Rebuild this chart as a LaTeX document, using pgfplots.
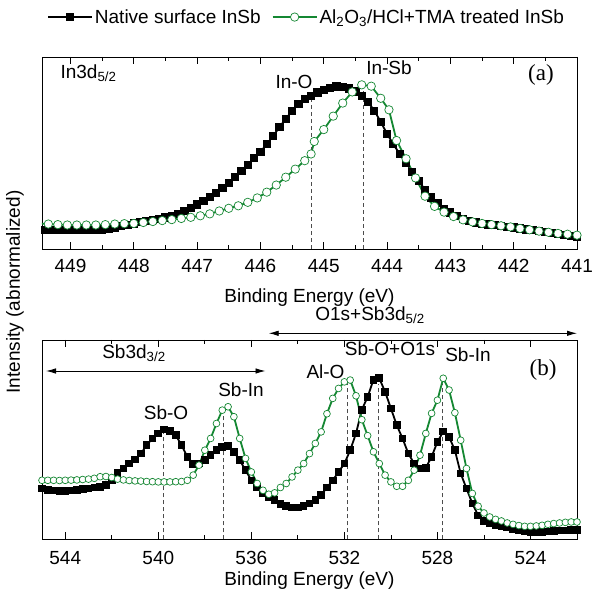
\documentclass[border=0pt]{standalone}
\usepackage{fontspec}
\setmainfont{Liberation Sans}
\newfontfamily\serifface{Liberation Serif}
\usepackage{pgfplots}
\pgfplotsset{compat=1.18}
\usetikzlibrary{arrows.meta}
\definecolor{grn}{RGB}{20,135,50}
\newcommand\fs{\fontsize{19bp}{22bp}\selectfont}
\newcommand\fl{\fontsize{23bp}{25bp}\selectfont\serifface}

\pgfplotsset{
  xps/.style={scale only axis, width=535bp, x dir=reverse, ymin=0, ymax=100, ytick=\empty,
    tick align=inside, major tick length=7bp, minor tick length=4bp, minor x tick num=1,
    xticklabel pos=lower, tick label style={font=\fs}, label style={font=\fs},
    /pgf/number format/assume math mode=true, /pgf/number format/set thousands separator={},
    axis line style={line width=0.8bp}, every tick/.style={black, line width=0.8bp},
    xlabel={Binding Energy (eV)}},
  nat/.style={black, line width=1.8bp, mark=square*, mark size=#1, mark options={solid}},
  trt/.style={grn, line width=1.8bp, mark=*, mark size=#1, mark options={solid, fill=white, draw=grn, line width=0.7bp}},
  dl/.style={black!70, dash pattern=on 4bp off 3bp, line width=0.8bp, forget plot, mark=none},
}

\pgfplotstableread{
x y
449.5 9.8
449.4 9.8
449.3 9.7
449.2 9.7
449.1 9.7
449.0 9.8
448.9 9.8
448.8 9.8
448.7 9.9
448.6 10.0
448.5 10.2
448.4 10.6
448.3 11.2
448.2 11.8
448.1 12.5
448.0 13.3
447.9 14.0
447.8 14.6
447.7 15.2
447.6 15.8
447.5 16.4
447.4 17.2
447.3 18.3
447.2 19.7
447.1 21.3
447.0 23.2
446.9 25.2
446.8 27.2
446.7 29.3
446.6 31.6
446.5 34.4
446.4 37.4
446.3 40.5
446.2 43.8
446.1 47.2
446.0 50.6
445.9 54.6
445.8 58.9
445.7 63.4
445.6 67.8
445.5 72.0
445.4 75.5
445.3 78.0
445.2 79.6
445.1 81.5
445.0 83.0
444.9 84.0
444.8 84.6
444.7 84.5
444.6 83.6
444.5 82.0
444.4 79.5
444.3 76.5
444.2 72.0
444.1 66.2
444.0 60.0
443.9 54.5
443.8 49.5
443.7 44.8
443.6 40.3
443.5 35.6
443.4 30.8
443.3 26.8
443.2 23.8
443.1 21.0
443.0 19.0
442.9 17.0
442.8 15.6
442.7 14.6
442.6 13.8
442.5 13.2
442.4 12.8
442.3 12.4
442.2 12.0
442.1 11.6
442.0 11.2
441.9 10.7
441.8 10.2
441.7 9.7
441.6 9.3
441.5 8.9
441.4 8.4
441.3 7.9
441.2 7.3
441.1 6.8
441.0 6.3
}\natA

\pgfplotstableread{
x y
449.50 13.3
449.35 13.0
449.20 12.7
449.05 12.5
448.90 12.5
448.75 12.5
448.60 12.5
448.45 12.7
448.30 13.0
448.15 13.2
448.00 13.3
447.85 13.8
447.70 14.3
447.55 14.8
447.40 15.3
447.25 15.9
447.10 16.5
446.95 17.3
446.80 18.3
446.65 19.8
446.50 21.2
446.35 22.5
446.20 24.3
446.05 26.6
445.90 29.6
445.75 33.3
445.60 37.4
445.45 41.6
445.30 46.0
445.20 49.5
445.15 56.0
445.00 62.2
444.85 69.2
444.70 76.0
444.55 81.8
444.40 85.5
444.25 84.8
444.10 78.5
443.97 72.5
443.85 56.5
443.70 47.0
443.55 37.0
443.40 27.5
443.25 22.2
443.10 19.2
442.95 16.9
442.80 15.2
442.65 14.1
442.50 13.3
442.35 12.7
442.20 12.1
442.05 11.5
441.90 10.7
441.75 10.0
441.60 9.3
441.45 8.7
441.30 8.1
441.15 7.7
441.00 7.2
}\trtA

\pgfplotstableread{
x y
545.00 25.5
544.75 24.8
544.50 24.5
544.25 24.3
544.00 24.3
543.75 24.5
543.50 24.8
543.25 25.2
543.00 25.5
542.75 26.0
542.50 26.3
542.25 27.1
542.00 29.6
541.75 33.3
541.50 35.5
541.25 38.0
541.00 40.0
540.75 43.0
540.50 47.2
540.25 50.6
540.00 53.1
539.75 55.1
539.50 54.4
539.25 52.3
539.00 47.2
538.75 41.4
538.50 37.9
538.25 38.0
538.00 39.7
537.75 42.2
537.50 44.7
537.25 46.4
537.00 46.7
536.75 43.9
536.50 39.7
536.25 34.7
536.00 29.6
535.75 26.0
535.50 23.0
535.25 21.0
535.00 19.6
534.75 17.6
534.50 16.6
534.25 15.9
534.00 15.9
533.75 16.6
533.50 17.9
533.25 19.6
533.00 22.1
532.75 26.0
532.50 29.6
532.25 33.8
532.00 38.0
531.75 44.7
531.50 53.1
531.25 65.0
531.00 71.5
530.75 80.0
530.50 80.8
530.25 74.0
530.00 65.7
529.75 57.3
529.50 50.6
529.25 43.0
529.00 38.0
528.75 35.5
528.50 35.9
528.25 41.4
528.00 48.9
527.75 54.0
527.50 51.4
527.25 44.7
527.00 33.0
526.75 25.5
526.50 18.0
526.25 12.0
526.00 9.2
525.75 8.0
525.50 7.0
525.25 6.4
525.00 5.9
524.75 5.2
524.50 4.6
524.25 4.1
524.00 3.8
523.75 3.7
523.50 3.8
523.25 4.0
523.00 4.2
522.75 4.4
522.50 4.5
522.25 4.6
522.00 4.6
}\natB

\pgfplotstableread{
x y
545.00 29.6
544.75 29.6
544.50 29.6
544.25 29.5
544.00 29.6
543.75 29.7
543.50 29.8
543.25 30.0
543.00 30.2
542.75 30.6
542.50 31.4
542.25 31.5
542.00 31.0
541.75 30.2
541.50 29.8
541.25 29.5
541.00 29.3
540.75 29.2
540.50 29.0
540.25 28.9
540.00 28.8
539.75 28.8
539.50 28.8
539.25 28.9
539.00 29.0
538.75 29.6
538.50 32.2
538.25 37.2
538.00 44.7
537.75 50.6
537.50 58.1
537.25 64.8
537.00 66.5
536.75 61.5
536.50 50.6
536.25 40.6
536.00 33.8
535.75 28.0
535.50 24.6
535.25 22.6
535.00 23.3
534.75 26.0
534.50 28.0
534.25 31.3
534.00 34.7
533.75 38.0
533.50 43.0
533.25 48.1
533.00 53.9
532.75 63.0
532.50 70.7
532.25 75.7
532.00 79.0
531.75 79.9
531.50 72.0
531.25 60.0
531.00 52.0
530.75 43.9
530.50 38.0
530.25 32.2
530.00 28.8
529.75 26.6
529.50 26.6
529.25 29.6
529.00 34.7
528.75 42.2
528.50 53.1
528.25 63.2
528.00 69.8
527.75 80.8
527.50 74.9
527.25 63.5
527.00 49.7
526.75 35.5
526.50 23.0
526.25 16.6
526.00 13.2
525.75 11.2
525.50 10.0
525.25 9.2
525.00 8.2
524.75 7.5
524.50 6.9
524.25 6.5
524.00 6.5
523.75 6.7
523.50 7.0
523.25 7.5
523.00 7.9
522.75 8.2
522.50 8.5
522.25 8.7
522.00 8.7
}\trtB

\begin{document}
\begin{tikzpicture}
\useasboundingbox (0,0) rectangle (592bp,595bp);

% panel (a)
\begin{axis}[xps, at={(42bp,346bp)}, anchor=south west, height=192bp,
    xmin=441, xmax=449.45, xtick={441,...,449},
    xticklabel style={anchor=center, yshift=-17bp},
    xlabel style={at={(rel axis cs:0.5,0)}, anchor=center, yshift=-49bp},
    legend columns=2, legend cell align=left,
    legend style={draw=none, fill=none, at={(0.0093,1.208)}, anchor=west,
      font=\fs, inner sep=0pt,
      /tikz/every even column/.append style={column sep=9bp}},
    legend image code/.code={\draw[mark repeat=2,mark phase=2] plot coordinates {(0bp,0bp) (22bp,0bp) (44bp,0bp)};}]
  \addplot[nat=3.2bp] table {\natA};
  \addlegendentry{Native surface InSb}
  \addplot[trt=4.2bp] table {\trtA};
  \addlegendentry{Al\textsubscript{2}O\textsubscript{3}/HCl+TMA treated InSb}
  \addplot[dl] coordinates {(445.2,0) (445.2,79)};
  \addplot[dl] coordinates {(444.37,0) (444.37,84.7)};
\end{axis}

% panel (b)
\begin{axis}[xps, at={(42bp,55.7bp)}, anchor=south west, height=199.3bp,
    xmin=522, xmax=545, xtick={524,528,...,544},
    xticklabel style={anchor=center, yshift=-19bp},
    xlabel style={at={(rel axis cs:0.5,0)}, anchor=center, yshift=-41bp}]
  \addplot[nat=2.9bp] table {\natB};
  \addplot[trt=3.4bp] table {\trtB};
  \addplot[dl] coordinates {(539.8,0) (539.8,54)};
  \addplot[dl] coordinates {(537.2,0) (537.2,62)};
  \addplot[dl] coordinates {(531.87,0) (531.87,80)};
  \addplot[dl] coordinates {(530.53,0) (530.53,78)};
  \addplot[dl] coordinates {(527.77,0) (527.77,78)};
\end{axis}

% annotations
\node[font=\fs, rotate=90] at (15bp,303bp) {Intensity (abnormalized)};
\node[font=\fs, anchor=west] at (57bp,522bp) {In3d\textsubscript{5/2}};
\node[font=\fs] at (294bp,513bp) {In-O};
\node[font=\fs] at (389bp,527bp) {In-Sb};
\node[font=\fl] at (541bp,520bp) {(a)};

\node[font=\fs] at (370bp,280bp) {O1s+Sb3d\textsubscript{5/2}};
\draw[line width=0.9bp, {Latex[length=10bp,width=5.5bp]}-{Latex[length=10bp,width=5.5bp]}] (268.7bp,261.7bp) -- (577bp,261.7bp);
\node[font=\fs] at (134bp,242bp) {Sb3d\textsubscript{3/2}};
\draw[line width=0.9bp, {Latex[length=10bp,width=5.5bp]}-{Latex[length=10bp,width=5.5bp]}] (46bp,224bp) -- (265.5bp,224bp);
\node[font=\fs] at (166bp,182bp) {Sb-O};
\node[font=\fs] at (241bp,205bp) {Sb-In};
\node[font=\fs] at (325.5bp,223bp) {Al-O};
\node[font=\fs] at (390bp,246bp) {Sb-O+O1s};
\node[font=\fs] at (468bp,240bp) {Sb-In};
\node[font=\fl] at (543bp,225bp) {(b)};
\end{tikzpicture}
\end{document}
